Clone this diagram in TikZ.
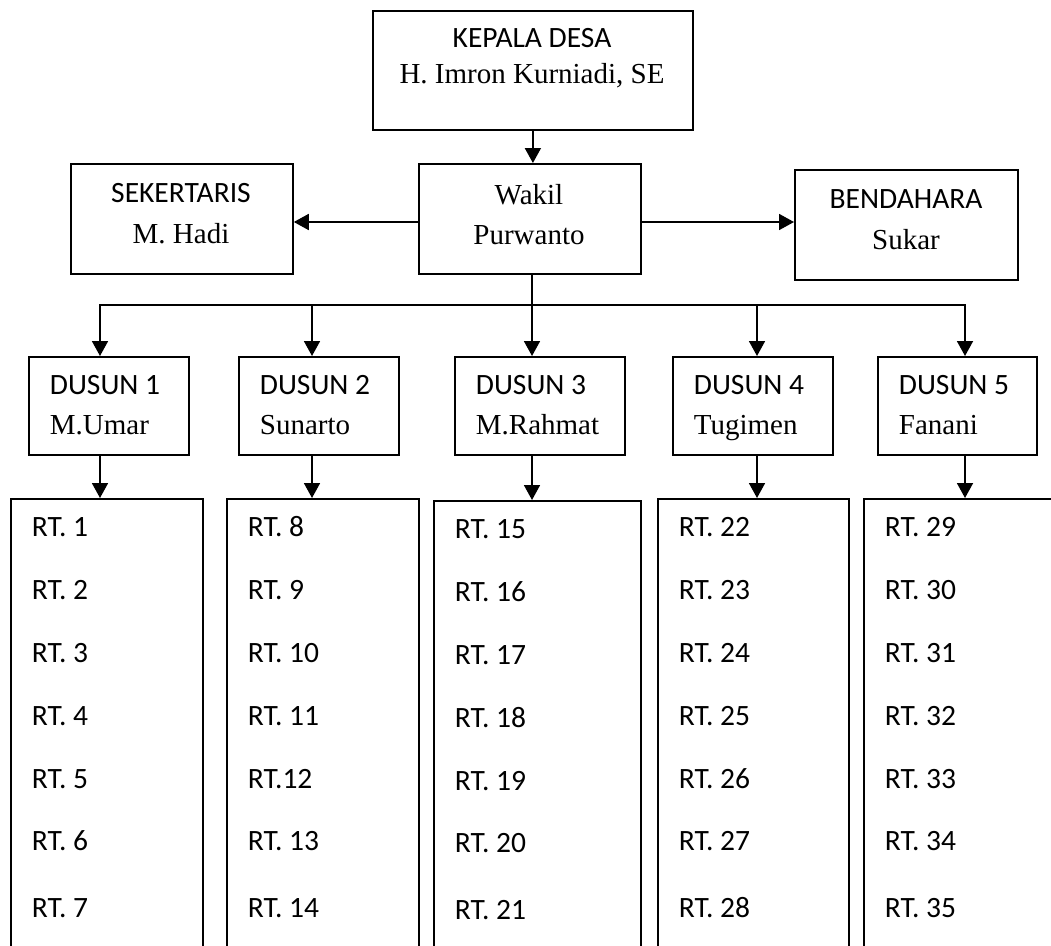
\documentclass[tikz,border=0pt]{standalone}
\usepackage{fontspec}
\setmainfont{Liberation Serif}
\setsansfont{Carlito}
\usetikzlibrary{arrows.meta,positioning}

\begin{document}
\begin{tikzpicture}[x=1pt, y=-1pt, line width=1.8pt,
  box/.style={draw, rectangle, inner sep=0pt, anchor=north west},
  arr/.style={-{Triangle[length=15pt,width=16pt]}},
  jab/.style={font=\sffamily\fontsize{29.5}{31}\selectfont, inner sep=0pt, anchor=base},
  nama/.style={font=\rmfamily\fontsize{29}{31}\selectfont, inner sep=0pt, anchor=base},
  rtkiri/.style={inner sep=0pt, anchor=base west}]

\useasboundingbox (0,0) rectangle (1051,945);
\clip (0,0) rectangle (1051,945);

% kepala desa
\node[box, minimum width=320pt, minimum height=119pt] (kades) at (372,10) {};
\node[jab] (kadesjab) at (532,47) {KEPALA DESA};
\node[nama] (kadesnama) at (532,83) {H. Imron Kurniadi, SE};

% wakil, sekertaris, bendahara
\node[box, minimum width=222pt, minimum height=110pt] (wakil) at (418,163) {};
\node[nama] (wakiljab) at (529,204) {Wakil};
\node[nama] (wakilnama) at (529,244) {Purwanto};

\node[box, minimum width=222pt, minimum height=110pt] (sekre) at (70,163) {};
\node[jab] (sekrejab) at (181,202) {SEKERTARIS};
\node[nama] (sekrenama) at (181,243) {M. Hadi};

\node[box, minimum width=223pt, minimum height=110pt] (benda) at (794,169) {};
\node[jab] (bendajab) at (906,208) {BENDAHARA};
\node[nama] (bendanama) at (906,249) {Sukar};

\coordinate (samping) at (532,222);
\coordinate (hub) at (532,305);

\draw[arr] (kades.south) -- (kades.south |- wakil.north);
\draw[arr] (wakil.west |- samping) -- (sekre.east |- samping);
\draw[arr] (wakil.east |- samping) -- (benda.west |- samping);
\draw (wakil.south -| hub) -- (hub);

%% dusun
\foreach \i/\x/\w/\ax/\nama in {1/28/160/100/M.Umar, 2/238/160/312/Sunarto,
  3/454/170/532/M.Rahmat, 4/672/160/757/Tugimen, 5/877/159/965/Fanani}
  {
  \coordinate (bus\i) at (\ax,305);
  \node[box, minimum width=\w pt, minimum height=98pt] (dusun\i) at (\x,356) {};
  \node[rtkiri, font=\sffamily\fontsize{29.5}{31}\selectfont] (dusunjab\i)
    at ({\x+21},394) {DUSUN \i};
  \node[rtkiri, font=\rmfamily\fontsize{29}{31}\selectfont] (dusunnama\i)
    at ({\x+21},434) {\nama};
  }

\draw[{Triangle[length=15pt,width=16pt]}-{Triangle[length=15pt,width=16pt]}]
  (bus1 |- dusun1.north) -- (bus1) -- (bus5) -- (bus5 |- dusun5.north);
\foreach \i in {2,3,4}
  \draw[arr] (bus\i) -- (bus\i |- dusun\i.north);

%% kolom RT
\foreach \i/\x/\y/\w in {1/10/498/192, 2/226/498/192, 3/433/500/207,
  4/657/498/191, 5/863/498/200}
  {
  \node[box, minimum width=\w pt, minimum height=460pt] (rt\i) at (\x,\y) {};
  \draw[arr] (bus\i |- dusun\i.south) -- (bus\i |- rt\i.north);
  \foreach \r/\b in {1/536, 2/599, 3/662, 4/725, 5/788, 6/850, 7/917}
    {
    \pgfmathtruncatemacro{\n}{7*(\i-1)+\r}
    \node[rtkiri, font=\sffamily\fontsize{29.5}{31}\selectfont] (rt\n)
      at ({\x+21},{\b+\y-498}) {\ifnum\n=12 RT.\n\else RT. \n\fi};
    }
  }

\end{tikzpicture}
\end{document}
